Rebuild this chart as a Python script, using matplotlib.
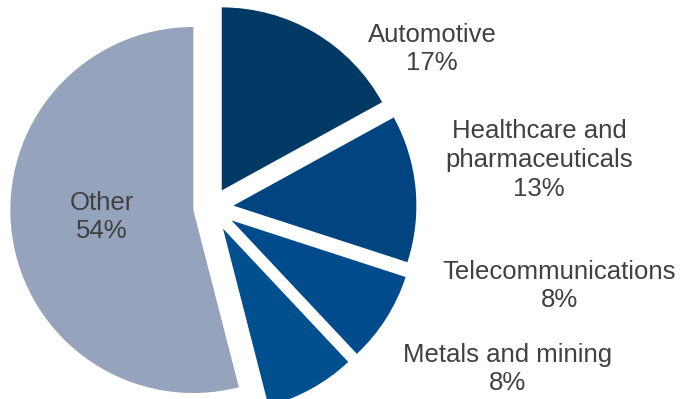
import matplotlib
matplotlib.use("Agg")
import matplotlib.pyplot as plt

plt.rcParams['font.family'] = ['Liberation Sans', 'DejaVu Sans']

# 行业分布数据（顺时针，自顶部开始）
sectors = ["Automotive", "Healthcare and\npharmaceuticals", "Telecommunications",
           "Metals and mining", "Other"]
shares = [17, 13, 8, 8, 54]
colors = ["#023a66", "#00457f", "#004b8c", "#00508f", "#95a3bd"]
explode = [0.11, 0.12, 0.13, 0.13, 0.10]

# 标签位置（像素坐标，画布 684x399）
label_pos = [(432, 350), (539, 239), (559, 113), (508, 30), (102, 182)]

R = 183
fig = plt.figure(figsize=(6.84, 3.99), dpi=100)
ax = fig.add_axes([0, 0, 1, 1])

# explode 在 matplotlib 中是绝对偏移量，这里按半径换算
wedges, _ = ax.pie(shares, colors=colors, startangle=90, counterclock=False,
                   explode=[e * R for e in explode], radius=R,
                   center=(211.5, 191.3), wedgeprops=dict(linewidth=0),
                   frame=True)
ax.set_xlim(0, 684)
ax.set_ylim(0, 399)
ax.set_aspect('equal')
ax.axis('off')

for name, val, (x, y) in zip(sectors, shares, label_pos):
    ax.text(x, y, f"{name}\n{val}%", ha='center', va='center', fontsize=18.5,
            color='#404040', linespacing=1.25)

fig.savefig("out.png", dpi=100)
